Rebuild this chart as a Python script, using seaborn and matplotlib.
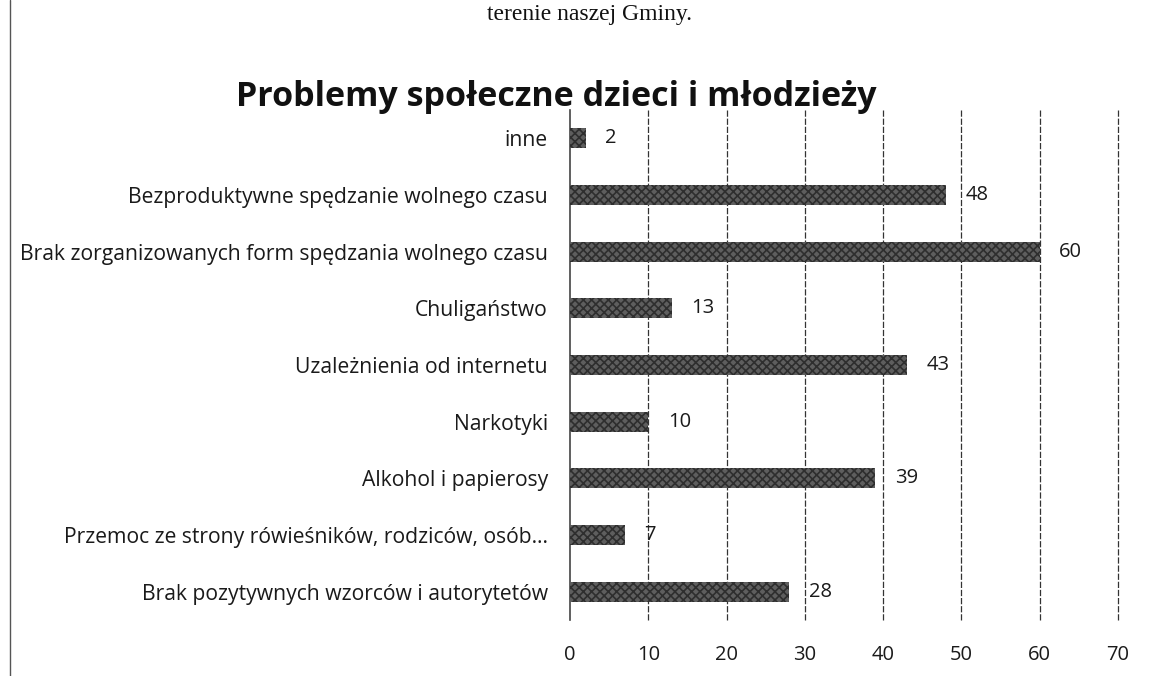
import matplotlib
matplotlib.use("Agg")
import matplotlib.pyplot as plt
from matplotlib.lines import Line2D
import seaborn as sns

categories = [
    "inne",
    "Bezproduktywne spędzanie wolnego czasu",
    "Brak zorganizowanych form spędzania wolnego czasu",
    "Chuligaństwo",
    "Uzależnienia od internetu",
    "Narkotyki",
    "Alkohol i papierosy",
    "Przemoc ze strony rówieśników, rodziców, osób…",
    "Brak pozytywnych wzorców i autorytetów",
]
values = [2, 48, 60, 13, 43, 10, 39, 7, 28]
x_ticks = [0, 10, 20, 30, 40, 50, 60, 70]

sns.set_style("white")
plt.rcParams["font.family"] = ["Open Sans", "DejaVu Sans"]
plt.rcParams["hatch.linewidth"] = 1.2

fig = plt.figure(figsize=(11.53, 6.76), dpi=100)
ax = fig.add_axes([0.4944, 0.0828, 0.4753, 0.7545])

sns.barplot(x=values, y=categories, orient="h", color="#5e5e5e",
            width=0.35, ax=ax, saturation=1, zorder=3)
for p in ax.patches:
    p.set_hatch("xxxx")
    p.set_edgecolor("#2e2e2e")
    p.set_linewidth(0)

for i, v in enumerate(values):
    ax.text(v + 2.5, i, str(v), va="center", ha="left", fontsize=14.5, color="#1a1a1a")

ax.set_xlim(0, 70)
ax.set_xticks(x_ticks)
ax.set_xticklabels([str(t) for t in x_ticks])
ax.set_ylim(len(categories) - 0.5, -0.5)
ax.set_xlabel("")
ax.set_ylabel("")
ax.grid(False)
ax.vlines(x_ticks[1:], -0.5, len(categories) - 0.5, colors="#333333",
          linestyles=(0, (5, 1.5)), linewidth=0.9, clip_on=False, zorder=1)
for s in ["top", "right", "bottom"]:
    ax.spines[s].set_visible(False)
ax.spines["left"].set_color("#444444")
ax.spines["left"].set_linewidth(1.2)
ax.tick_params(axis="x", length=0, pad=18, labelsize=14.5, labelcolor="#1a1a1a")
ax.tick_params(axis="y", length=0, pad=16, labelsize=15.2, labelcolor="#1a1a1a")

fig.text(556 / 1153, 1 - 97 / 676, "Problemy społeczne dzieci i młodzieży",
         ha="center", va="center", fontsize=24.5, fontweight="bold", color="#111111")
fig.text(0.511, 1 - 20 / 676, "terenie naszej Gminy.", ha="center", va="baseline",
         fontsize=17, family=["Liberation Serif", "DejaVu Serif"], color="#111111")
fig.add_artist(Line2D([0.009, 0.009], [0, 1], transform=fig.transFigure,
                      color="#555555", linewidth=1))

fig.savefig("out.png", dpi=100)
